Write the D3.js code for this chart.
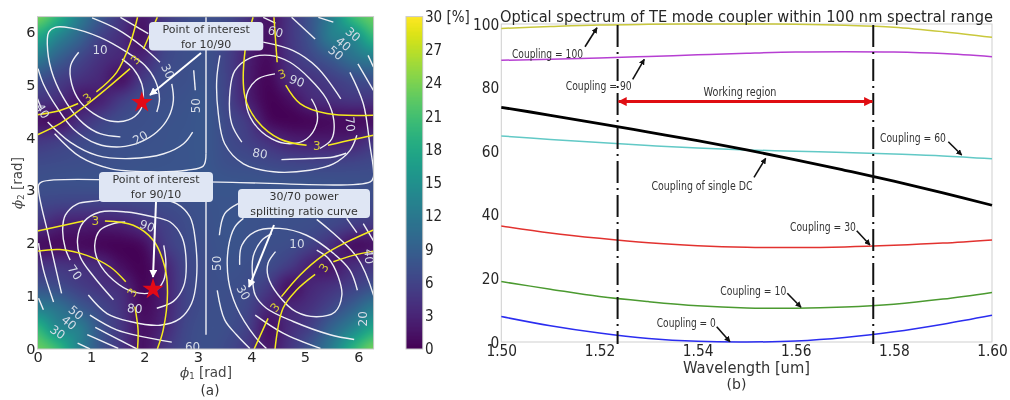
<!DOCTYPE html>
<html>
<head>
<meta charset="utf-8">
<script src="https://cdn.jsdelivr.net/npm/d3@7"></script>
<style>
  html, body { margin: 0; background: #fff; }
  #app { position: relative; width: 1010px; height: 400px; overflow: hidden; filter: blur(0.45px); }
  canvas, svg { position: absolute; left: 0; top: 0; }
  text { font-family: "DejaVu Sans", sans-serif; }
</style>
</head>
<body>
<div id="app">
  <canvas id="heat" width="1010" height="400"></canvas>
  <svg id="chart" width="1010" height="400"></svg>
</div>
<script>
// ---- panel (a): percent values on a pi/8 grid, first row is phi2 = 0, last row phi2 = 2pi
const heatRows = [
  [23,20,13,7.8,4.6,1.5,4.4,6.5,7.2,6.6,4.8,2,4.6,8,12.5,19,23.5],
  [19.5,14,12.5,7.6,4.6,1.5,3.2,6.2,7.2,7,5.6,1.5,3.8,5.8,9.5,13.3,17.7],
  [12.6,11,8.4,6.3,4.3,1,2.6,5.8,7,7.1,6.2,3.2,3.2,4.3,6.4,9,12.2],
  [7.5,6.8,5.5,4.4,3.5,0.6,2.4,5.9,7,7.2,6.8,5,1.5,3.2,4.3,5.7,7.3],
  [4.5,4.6,4,3.4,1.2,0.3,2.7,6.1,7,7.5,7.2,6.8,5.1,2.7,2,3.8,4.6],
  [1.3,1,1,0.6,0.3,1,4.8,6.6,7.2,7.7,7.5,7.2,6.9,5.7,3.9,1.4,1.6],
  [4.5,2.8,2.4,2.4,2.8,4.2,5.7,6.8,7.4,7.8,7.6,7.4,7.2,7,6.4,5.4,4.8],
  [6.4,6,5.8,5.8,6,6.4,6.9,7.2,7.6,7.8,7.7,7.6,7.4,7.2,7,6.8,6.6],
  [7.2,7.3,7.4,7.5,7.6,7.7,7.8,7.9,8,7.9,7.8,7.7,7.6,7.5,7.4,7.3,7.2],
  [6.6,6.8,7,7.2,7.4,7.6,7.7,7.8,8,7.2,6.9,6.4,6,5.8,5.8,6,6.4],
  [4.8,5.4,6.4,7,7.2,7.4,7.6,7.8,8,6.8,5.7,4.2,2.8,2.4,2.4,2.8,4.5],
  [1.6,1.4,3.9,5.7,6.9,7.2,7.5,7.7,8,6.6,4.8,1,0.3,0.6,1,1,1.3],
  [4.6,3.8,2,2.7,5.1,6.8,7.2,7.5,7.9,6.1,2.7,0.3,1.2,3.4,4,4.6,4.5],
  [7.3,5.7,4.3,3.2,1.5,5,6.8,7.2,7.6,5.9,2.4,0.6,3.5,4.4,5.5,6.8,7.5],
  [12.2,9,6.4,4.3,3.2,3.2,6.2,7.1,7.4,5.8,2.6,1,4.3,6.3,8.4,11,12.6],
  [17.7,13.3,9.5,5.8,3.8,1.5,5.6,7,7.3,6.2,3.2,1.5,4.6,7.6,12.5,14,19.5],
  [23.5,19,12.5,8,4.6,2,4.8,6.6,7.2,6.5,4.4,1.5,4.6,7.8,13,20,23]
];

// yellow 3 % curves, [phi1, phi2]
const yellowCurves = [
  [[0,4.43],[0.42,4.51],[0.76,4.64]],
  [[1.1,4.86],[1.48,5.23],[1.73,5.77],[1.87,6.27]],
  [[0,4.05],[0.42,4.26],[0.86,4.57],[1.29,4.92],[1.73,5.3]],
  [[1.98,5.67],[2.24,6.27]],
  [[4.42,6.27],[4.48,5.42]],
  [[4.64,4.99],[4.91,4.64],[5.41,4.45],[6.28,4.42]],
  [[4.03,6.27],[3.88,5.64],[3.88,4.76],[4.1,4.32],[4.53,3.97],[5.03,3.85]],
  [[5.43,3.85],[5.9,3.96],[6.28,4.04]],
  [[0,2.23],[0.86,2.42]],
  [[1.26,2.42],[1.79,2.34],[2.16,2.06],[2.38,1.55],[2.43,1.05],[2.35,0.36],[2.24,0]],
  [[0,1.85],[0.42,1.88],[0.92,1.77],[1.36,1.55],[1.65,1.27]],
  [[1.82,0.8],[1.88,0.36],[1.87,0]],
  [[6.28,2.25],[5.78,2.02],[5.34,1.77],[4.91,1.4],[4.56,0.99]],
  [[4.31,0.58],[4.05,0]],
  [[6.28,1.85],[5.9,1.77],[5.53,1.65]],
  [[5.19,1.41],[4.84,1.11],[4.59,0.77],[4.44,0]]
];

// white coupling contours, [phi1, phi2]
const whiteCurves = [
  // upper left
  [[1.58,5.48],[1.79,5.3],[1.95,5.01],[1.98,4.76],[1.92,4.51],[1.7,4.33],[1.36,4.31],[1.05,4.45],[0.8,4.67],[0.64,5.01],[0.62,5.36],[0.77,5.61]],
  [[2.23,4.48],[2.28,4.73],[2.2,5.08],[2.01,5.36],[1.67,5.61],[1.17,5.89],[0.61,6.07],[0.33,6.08],[0.21,5.99],[0.19,5.64],[0.3,5.14],[0.55,4.64],[0.86,4.26],[1.17,4.07],[1.55,4.01]],
  [[2.51,5.01],[2.54,4.7],[2.45,4.38],[2.23,4.1],[1.92,3.91],[1.55,3.82],[1.11,3.88],[0.67,4.16],[0.36,4.57],[0.11,5.01],[0.01,5.3]],
  [[1.02,6.26],[1.48,6.05],[1.98,5.7],[2.29,5.42]],
  [[0,4.73],[0.07,4.55]],
  [[0.19,4.29],[0.61,3.91],[1.11,3.66],[1.73,3.6],[2.36,3.69],[2.73,3.88],[2.9,4.1]],
  [[2.95,4.89],[2.92,5.27]],
  [[1.55,6.27],[2.07,5.96]],
  [[0.32,4.07],[0.8,3.63],[1.36,3.41],[2.11,3.35],[2.79,3.38],[3.1,3.46],[3.15,3.7]],
  [[3.15,6.27],[3.15,3.7]],
  // the 50 lines through the middle
  [[0.45,1.05],[0.21,2.12],[0.02,3.1],[0.08,3.16],[3.14,3.16],[6.22,3.16],[6.28,3.25],[6.21,3.88],[6.09,4.64],[5.84,5.23]],
  [[3.15,3.14],[3.15,0.27]],
  // lower left
  [[2.36,1.96],[2.4,1.62],[2.36,1.3],[2.17,1.08],[1.79,1.08],[1.42,1.3],[1.14,1.65],[1.07,1.96],[1.17,2.25],[1.42,2.37],[1.64,2.4]],
  [[2.23,0.77],[2.54,0.9],[2.73,1.18],[2.78,1.62],[2.7,2.12],[2.48,2.4],[2.11,2.51],[1.67,2.59],[1.17,2.59],[0.86,2.4],[0.75,2.09],[0.8,1.74],[1.05,1.37],[1.42,0.93]],
  [[0.95,1.02],[1.3,0.67],[1.73,0.52],[2.29,0.45],[2.67,0.58],[2.88,0.86],[2.97,1.3],[2.95,2.06],[2.85,2.5],[2.6,2.75],[2.2,2.85]],
  [[1.4,2.85],[1.11,2.8],[0.74,2.74],[0.52,2.53],[0.47,2.25],[0.52,1.9],[0.61,1.68]],
  [[0.98,0.64],[1.48,0.36],[1.98,0.23],[2.51,0.13]],
  [[0.02,2.0],[0.11,1.5],[0.3,0.89]],
  [[1.08,0.41],[1.51,0.18],[1.86,0]],
  [[0.02,0.96],[0.11,0.74]],
  [[0.93,0.27],[1.51,0.01]],
  [[0.75,0.11],[0.98,0]],
  // upper right
  [[4.44,5.2],[4.13,5.11],[3.94,4.89],[3.9,4.64],[4.03,4.29],[4.38,3.97],[4.72,3.88],[5.03,3.97],[5.22,4.26],[5.22,4.51],[5.12,4.73]],
  [[5.28,3.79],[5.5,3.97],[5.54,4.32],[5.4,4.73],[5.09,5.11],[4.72,5.42],[4.35,5.55],[3.97,5.5],[3.69,5.26],[3.6,4.89],[3.63,4.26],[3.82,3.91]],
  [[4.56,3.58],[5.09,3.6],[5.53,3.63],[5.77,3.7]],
  [[4.22,5.8],[4.78,5.64],[5.22,5.33],[5.67,4.73]],
  [[3.41,5.55],[3.35,5.08],[3.38,4.45],[3.5,3.88],[3.85,3.5],[4.41,3.35],[5.09,3.38],[5.53,3.5],[5.84,3.75],[5.97,4.04]],
  [[5.99,5.39],[6.28,4.89]],
  [[6.18,5.55],[6.28,5.33]],
  [[4.75,6.27],[5.19,5.86]],
  [[5.25,6.27],[5.53,6.18]],
  [[4.22,6.27],[4.45,6.16]],
  // lower right
  [[5.22,1.87],[5.44,1.71],[5.62,1.37],[5.69,1.02],[5.56,0.7],[5.22,0.61],[4.84,0.7],[4.5,1.02],[4.31,1.37],[4.31,1.62],[4.45,1.84]],
  [[4.38,2.18],[4.19,2.05],[4.03,1.74],[4.02,1.37],[4.07,1.02],[4.28,0.77],[4.78,0.52],[5.47,0.27],[5.92,0.18]],
  [[3.78,1.59],[3.82,1.96],[4.07,2.22],[4.53,2.28],[5.03,2.15],[5.53,1.81],[5.84,1.49],[5.98,1.11]],
  [[4.07,0.64],[4.59,0.3],[5.29,0.01]],
  [[3.85,2.47],[3.69,2.31],[3.57,1.93],[3.57,1.3],[3.72,0.8],[4.07,0.23],[4.28,0.01]],
  [[5.22,2.45],[5.97,1.74],[6.29,0.99]],
  [[3.4,2.15],[3.5,2.56],[3.75,2.75]],
  [[3.36,1.11],[3.5,0.55],[3.72,0.27],[3.97,0.01]],
  [[5.78,2.47],[5.97,2.2]],
  [[6.09,2.37],[6.29,2.03]]
];

const whiteLabels = [
  ["10",1.17,5.65,0],["20",1.92,4.0,-30],["30",2.44,5.25,65],["40",0.1,4.5,60],["50",2.95,4.6,-90],
  ["60",4.45,6.0,15],["50",5.58,5.6,40],["40",5.72,5.77,40],["30",5.9,5.95,40],["90",4.85,5.07,20],["80",4.16,3.7,10],["70",5.85,4.25,85],
  ["90",2.05,2.33,20],["80",1.82,0.77,5],["70",0.7,1.45,55],["50",0.72,0.69,40],["40",0.59,0.5,40],["30",0.38,0.32,35],["60",2.9,0.05,0],["50",3.35,1.62,-90],
  ["10",4.85,2.0,0],["20",6.08,0.57,-90],["30",3.85,1.07,60],["40",6.2,1.75,85]
];
const yellowLabels = [
  [0.93,4.75,-35],[1.83,5.47,-50],[4.57,5.2,-20],[5.22,3.85,0],[1.08,2.42,0],[1.77,1.07,-60],[4.44,0.79,-50],[5.35,1.54,-55]
];
const stars = [[1.95,4.66],[2.16,1.13]];

const xTicksA = [0,1,2,3,4,5,6];
const yTicksA = [0,1,2,3,4,5,6];
const barTicks = [0,3,6,9,12,15,18,21,24,27];

// ---- panel (b)
const wavelengths = [1.50,1.51,1.52,1.53,1.54,1.55,1.56,1.57,1.58,1.59,1.60];
const coupling100 = [98.6,99.2,99.7,99.9,100,100,99.9,99.6,99,97.6,95.8];
const coupling90 = [88.6,88.9,89.3,89.8,90.3,90.8,91.2,91.3,91.2,90.7,89.7];
const singleDC = [73.8,71.3,68.7,66,63.3,60.4,57.3,54,50.6,46.9,43];
const coupling60 = [64.8,63.7,62.7,61.8,61,60.4,60,59.6,59.1,58.5,57.6];
const coupling30 = [36.5,34.3,32.6,31.2,30.3,29.8,29.7,29.9,30.4,31.1,32.1];
const coupling10 = [19,16.6,14.3,12.7,11.4,10.7,10.6,11,11.9,13.5,15.6];
const coupling0 = [8,5.1,2.8,1.1,0.2,0,0.3,1.4,3.2,5.6,8.4];
const regionEdges = [1.5237,1.5758];
const regionArrowLevel = 75.6;
const xTicksB = [1.50,1.52,1.54,1.56,1.58,1.60];
const yTicksB = [0,20,40,60,80,100];

const specLines = [
  { y: coupling100, color: "#c9c83c", w: 1.5 },
  { y: coupling90, color: "#b63fd2", w: 1.5 },
  { y: coupling60, color: "#62c9c6", w: 1.5 },
  { y: coupling30, color: "#e2322f", w: 1.5 },
  { y: coupling10, color: "#4b9a30", w: 1.5 },
  { y: coupling0, color: "#2b2df0", w: 1.5 },
  { y: singleDC, color: "#000", w: 2.8 }
];

// annotation placement is plain layout, in page pixels
const specNotes = [
  { t: "Coupling = 100", x: 547.5, y: 53, len: 71, a: [585,46.7,597,27.7] },
  { t: "Coupling = 90", x: 598.7, y: 85, len: 66, a: [632.7,79.3,644.3,59.3] },
  { t: "Working region", x: 740, y: 91, len: 73 },
  { t: "Coupling = 60", x: 913, y: 137.7, len: 66, a: [948.3,141.7,961.7,155] },
  { t: "Coupling of single DC", x: 702, y: 185, len: 101, a: [754,177.3,765.7,158.3] },
  { t: "Coupling = 30", x: 823, y: 226.7, len: 66, a: [856.7,230.7,870,245] },
  { t: "Coupling = 10", x: 753.3, y: 290, len: 66, a: [787.3,293.3,801,307.3] },
  { t: "Coupling = 0", x: 686.3, y: 322.3, len: 59, a: [716.7,326.7,730,341.7] }
];
const callouts = [
  { lines: ["Point of interest","for 10/90"], x0: 149, y0: 22, x1: 263.3, y1: 50.5, a: [201,53,150,95] },
  { lines: ["Point of interest","for 90/10"], x0: 99, y0: 172, x1: 213, y1: 202, a: [156,202,153,277] },
  { lines: ["30/70 power","splitting ratio curve"], x0: 238, y0: 189, x1: 370, y1: 218, a: [274,225,249,287] }
];

const svg = d3.select("#chart");
const defs = svg.append("defs");
const ctx = document.getElementById("heat").getContext("2d");

function arrowHead(id, color, size) {
  defs.append("marker").attr("id", id)
    .attr("viewBox", "0 0 10 10").attr("refX", 9).attr("refY", 5)
    .attr("markerWidth", size).attr("markerHeight", size)
    .attr("markerUnits", "userSpaceOnUse").attr("orient", "auto-start-reverse")
    .append("path").attr("d", "M0,0L10,5L0,10Z").attr("fill", color);
}
arrowHead("headWhite", "#fff", 8);
arrowHead("headBlack", "#111", 6);
arrowHead("headRed", "#e00d12", 9);

// squash wide glyphs to the narrower look of the stretched reference
function squeeze(sel, k) {
  sel.each(function () {
    d3.select(this).attr("textLength", this.getComputedTextLength() * k).attr("lengthAdjust", "spacingAndGlyphs");
  });
}

// ---- scales for (a)
const xA = d3.scaleLinear().domain([0, 2 * Math.PI]).range([37.5, 373.6]);
const yA = d3.scaleLinear().domain([0, 2 * Math.PI]).range([349, 16.6]);
const color = d3.scaleSequential(d3.interpolateViridis).domain([0, 30]);

function cubic(a, b, c, d, t) {
  return b + 0.5 * t * (c - a + t * (2 * a - 5 * b + 4 * c - d + t * (3 * (b - c) + d - a)));
}
function sampleHeat(px, py) {
  const n = heatRows.length - 1;
  const gx = Math.min(n - 1e-6, Math.max(0, px / (2 * Math.PI) * n));
  const gy = Math.min(n - 1e-6, Math.max(0, py / (2 * Math.PI) * n));
  const i = Math.floor(gx), j = Math.floor(gy);
  const at = (a, b) => heatRows[Math.max(0, Math.min(n, b))][Math.max(0, Math.min(n, a))];
  const row = k => cubic(at(i - 1, k), at(i, k), at(i + 1, k), at(i + 2, k), gx - i);
  return Math.max(0, cubic(row(j - 1), row(j), row(j + 1), row(j + 2), gy - j));
}

function drawHeat() {
  for (let px = 38; px < 374; px++) {
    for (let py = 17; py < 349; py++) {
      ctx.fillStyle = color(sampleHeat(xA.invert(px + 0.5), yA.invert(py + 0.5)));
      ctx.fillRect(px, py, 1, 1);
    }
  }
}

function drawContours() {
  const line = d3.line().x(d => xA(d[0])).y(d => yA(d[1])).curve(d3.curveCatmullRom.alpha(0.5));
  defs.append("clipPath").attr("id", "clipA").append("rect")
    .attr("x", xA(0)).attr("y", yA(2 * Math.PI)).attr("width", xA.range()[1] - xA(0)).attr("height", yA(0) - yA.range()[1]);
  const g = svg.append("g").attr("clip-path", "url(#clipA)");

  g.selectAll(".white").data(whiteCurves).join("path").attr("class", "white")
    .attr("d", line).attr("fill", "none").attr("stroke", "#eff0f5").attr("stroke-width", 1.4);
  g.selectAll(".yellow").data(yellowCurves).join("path").attr("class", "yellow")
    .attr("d", line).attr("fill", "none").attr("stroke", "#f4ea1e").attr("stroke-width", 1.5);

  g.selectAll(".wl").data(whiteLabels).join("text").attr("class", "wl")
    .attr("transform", d => `translate(${xA(d[1])},${yA(d[2])}) rotate(${d[3]})`)
    .attr("text-anchor", "middle").attr("dy", "0.36em").attr("font-size", 12)
    .attr("fill", "#d5dbe6").text(d => d[0]);
  g.selectAll(".yl").data(yellowLabels).join("text").attr("class", "yl")
    .attr("transform", d => `translate(${xA(d[0])},${yA(d[1])}) rotate(${d[2]})`)
    .attr("text-anchor", "middle").attr("dy", "0.36em").attr("font-size", 12)
    .attr("fill", "#d6cb35").text("3");
}

function drawFrameA() {
  svg.append("rect").attr("x", xA(0)).attr("y", yA.range()[1]).attr("width", xA.range()[1] - xA(0)).attr("height", yA(0) - yA.range()[1])
    .attr("fill", "none").attr("stroke", "#c9c9c9").attr("stroke-width", 1);

  const ax = svg.append("g").attr("transform", `translate(0,${yA(0)})`)
    .call(d3.axisBottom(xA).tickValues(xTicksA).tickFormat(d3.format("d")).tickSize(0).tickPadding(3));
  const ay = svg.append("g").attr("transform", `translate(${xA(0)},0)`)
    .call(d3.axisLeft(yA).tickValues(yTicksA).tickFormat(d3.format("d")).tickSize(0).tickPadding(2));
  [ax, ay].forEach(a => {
    a.select(".domain").remove();
    a.selectAll("text").attr("font-size", 14.5).attr("fill", "#262626").attr("font-family", "DejaVu Sans");
  });

  svg.append("text").attr("x", 206).attr("y", 377).attr("text-anchor", "middle").attr("font-size", 13.5).attr("fill", "#444")
    .html('<tspan font-family="DejaVu Serif" font-style="italic">ϕ</tspan><tspan font-size="8.5" dy="2">1</tspan><tspan dy="-2"> [rad]</tspan>');
  svg.append("text").attr("transform", "translate(22,183) rotate(-90)").attr("text-anchor", "middle").attr("font-size", 13.5).attr("fill", "#444")
    .html('<tspan font-family="DejaVu Serif" font-style="italic">ϕ</tspan><tspan font-size="8.5" dy="2">2</tspan><tspan dy="-2"> [rad]</tspan>');
  svg.append("text").attr("x", 210).attr("y", 395).attr("text-anchor", "middle").attr("font-size", 13.5).attr("fill", "#333").text("(a)");
}

function drawCallouts() {
  const g = svg.append("g");
  callouts.forEach(c => {
    g.append("rect").attr("x", c.x0).attr("y", c.y0).attr("width", c.x1 - c.x0).attr("height", c.y1 - c.y0)
      .attr("rx", 4).attr("fill", "#dfe6f4");
    c.lines.forEach((t, i) => {
      g.append("text").attr("x", (c.x0 + c.x1) / 2).attr("y", c.y0 + 11 + i * 15).attr("text-anchor", "middle")
        .attr("font-size", 11).attr("fill", "#333").text(t);
    });
    g.append("line").attr("x1", c.a[0]).attr("y1", c.a[1]).attr("x2", c.a[2]).attr("y2", c.a[3])
      .attr("stroke", "#fff").attr("stroke-width", 2).attr("marker-end", "url(#headWhite)");
  });

  svg.selectAll(".star").data(stars).join("path").attr("class", "star")
    .attr("transform", d => `translate(${xA(d[0])},${yA(d[1])})`)
    .attr("d", d3.symbol().type(d3.symbolStar).size(140)).attr("fill", "#e30a17");
}

function drawColorbar() {
  const yBar = d3.scaleLinear().domain([0, 30]).range([349, 16.6]);
  for (let py = 17; py < 349; py++) {
    ctx.fillStyle = color(yBar.invert(py + 0.5));
    ctx.fillRect(406, py, 17, 1);
  }
  svg.append("rect").attr("x", 406).attr("y", 16.6).attr("width", 16.7).attr("height", 332.4)
    .attr("fill", "none").attr("stroke", "#c9c9c9");

  const labels = svg.append("g").selectAll("text").data(barTicks.concat([30])).join("text")
    .attr("x", 425).attr("y", d => yBar(d)).attr("dy", "0.36em")
    .attr("font-size", 15).attr("fill", "#262626")
    .text(d => d === 30 ? "30 [%]" : d);
  squeeze(labels, 0.9);
}

// ---- panel (b)
const xB = d3.scaleLinear().domain([1.5, 1.6]).range([501.3, 992]);
const yB = d3.scaleLinear().domain([0, 100]).range([342, 24]);

function drawSpectrum() {
  svg.append("rect").attr("x", xB(1.5)).attr("y", yB(100)).attr("width", xB(1.6) - xB(1.5)).attr("height", yB(0) - yB(100))
    .attr("fill", "none").attr("stroke", "#cfcfcf");

  const ax = svg.append("g").attr("transform", `translate(0,${yB(0)})`)
    .call(d3.axisBottom(xB).tickValues(xTicksB).tickFormat(d3.format(".2f")).tickSize(0).tickPadding(3));
  const ay = svg.append("g").attr("transform", `translate(${xB(1.5)},0)`)
    .call(d3.axisLeft(yB).tickValues(yTicksB).tickSize(0).tickPadding(2));
  [ax, ay].forEach(a => {
    a.select(".domain").remove();
    a.selectAll("text").attr("font-size", 16).attr("fill", "#262626").attr("font-family", "DejaVu Sans");
    squeeze(a.selectAll("text"), 0.86);
  });

  const line = d3.line().x((d, i) => xB(wavelengths[i])).y(d => yB(d)).curve(d3.curveCatmullRom.alpha(0.5));
  svg.append("g").selectAll("path").data(specLines).join("path")
    .attr("d", d => line(d.y)).attr("fill", "none").attr("stroke", d => d.color).attr("stroke-width", d => d.w);

  svg.append("g").selectAll("line").data(regionEdges).join("line")
    .attr("x1", d => xB(d)).attr("x2", d => xB(d)).attr("y1", yB(100) + 1).attr("y2", yB(0) + 2)
    .attr("stroke", "#111").attr("stroke-width", 2).attr("stroke-dasharray", "22 5 2 5");

  svg.append("line").attr("x1", xB(regionEdges[0]) + 1).attr("x2", xB(regionEdges[1]) - 1)
    .attr("y1", yB(regionArrowLevel)).attr("y2", yB(regionArrowLevel))
    .attr("stroke", "#e00d12").attr("stroke-width", 3)
    .attr("marker-start", "url(#headRed)").attr("marker-end", "url(#headRed)");

  specNotes.forEach(n => {
    svg.append("text").attr("x", n.x).attr("y", n.y).attr("dy", "0.36em").attr("text-anchor", "middle")
      .attr("font-family", "Lato").attr("font-size", 12.5).attr("fill", "#333")
      .attr("textLength", n.len).attr("lengthAdjust", "spacingAndGlyphs").text(n.t);
    if (n.a) {
      svg.append("line").attr("x1", n.a[0]).attr("y1", n.a[1]).attr("x2", n.a[2]).attr("y2", n.a[3])
        .attr("stroke", "#111").attr("stroke-width", 1.6).attr("marker-end", "url(#headBlack)");
    }
  });

  svg.append("text").attr("x", 746.5).attr("y", 22).attr("text-anchor", "middle").attr("font-size", 16).attr("fill", "#262626")
    .attr("textLength", 493).attr("lengthAdjust", "spacingAndGlyphs")
    .text("Optical spectrum of TE mode coupler within 100 nm spectral range");
  svg.append("text").attr("x", 746.5).attr("y", 373).attr("text-anchor", "middle").attr("font-size", 16).attr("fill", "#333")
    .attr("textLength", 127).attr("lengthAdjust", "spacingAndGlyphs").text("Wavelength [um]");
  svg.append("text").attr("x", 736.5).attr("y", 389).attr("text-anchor", "middle").attr("font-size", 14).attr("fill", "#333").text("(b)");
}

drawHeat();
drawContours();
drawFrameA();
drawCallouts();
drawColorbar();
drawSpectrum();
</script>
</body>
</html>
